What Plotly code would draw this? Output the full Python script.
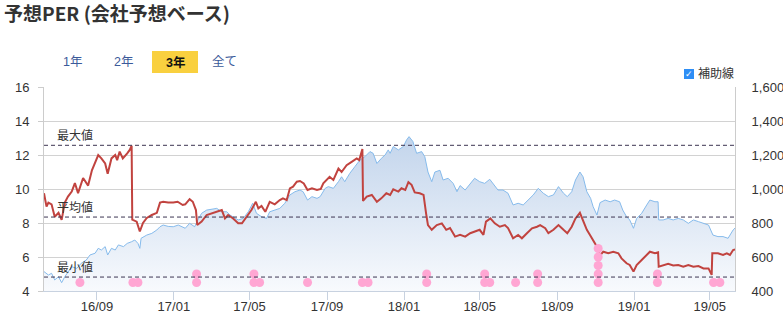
import plotly.graph_objects as go

# ---------------- data ----------------
per_dates = [
    "2016-06-09", "2016-06-13", "2016-06-16", "2016-06-21", "2016-06-26",
    "2016-07-02", "2016-07-07", "2016-07-12", "2016-07-17", "2016-07-23", "2016-07-28",
    "2016-08-02", "2016-08-10", "2016-08-18", "2016-08-24", "2016-08-29",
    "2016-09-03", "2016-09-08", "2016-09-14", "2016-09-18", "2016-09-24", "2016-09-30",
    "2016-10-03", "2016-10-07", "2016-10-12", "2016-10-19", "2016-10-23", "2016-10-26", "2016-10-27",
    "2016-11-03", "2016-11-08", "2016-11-13", "2016-11-19", "2016-11-27",
    "2016-12-05", "2016-12-10", "2016-12-15", "2016-12-23", "2016-12-31",
    "2017-01-07", "2017-01-15", "2017-01-19", "2017-01-26", "2017-01-31",
    "2017-02-05", "2017-02-07", "2017-02-14", "2017-02-22",
    "2017-03-02", "2017-03-10", "2017-03-18", "2017-03-23", "2017-03-28",
    "2017-04-05", "2017-04-13", "2017-04-19", "2017-04-26",
    "2017-05-04", "2017-05-11", "2017-05-15", "2017-05-20", "2017-05-26",
    "2017-06-02", "2017-06-10", "2017-06-18", "2017-06-23", "2017-06-29",
    "2017-07-04", "2017-07-09", "2017-07-15", "2017-07-20", "2017-07-26",
    "2017-08-01", "2017-08-08", "2017-08-16", "2017-08-22", "2017-08-26", "2017-08-31",
    "2017-09-05", "2017-09-11", "2017-09-19", "2017-09-24",
    "2017-10-02", "2017-10-10", "2017-10-18", "2017-10-22", "2017-10-27", "2017-10-28",
    "2017-11-03", "2017-11-11", "2017-11-19", "2017-11-26",
    "2017-12-04", "2017-12-10", "2017-12-15", "2017-12-23", "2017-12-28",
    "2018-01-03", "2018-01-08", "2018-01-13", "2018-01-18", "2018-01-26",
    "2018-02-01", "2018-02-05", "2018-02-08", "2018-02-14", "2018-02-22",
    "2018-03-02", "2018-03-09", "2018-03-15", "2018-03-23", "2018-03-31",
    "2018-04-08", "2018-04-16", "2018-04-23",
    "2018-05-01", "2018-05-07", "2018-05-11", "2018-05-18", "2018-05-25",
    "2018-06-02", "2018-06-10", "2018-06-15", "2018-06-23",
    "2018-07-01", "2018-07-07", "2018-07-15", "2018-07-23", "2018-07-31",
    "2018-08-05", "2018-08-13", "2018-08-18", "2018-08-26",
    "2018-09-03", "2018-09-11", "2018-09-17", "2018-09-24", "2018-09-30",
    "2018-10-07", "2018-10-12", "2018-10-18", "2018-10-23", "2018-10-28",
    "2018-11-03", "2018-11-08", "2018-11-13", "2018-11-21", "2018-11-29",
    "2018-12-07", "2018-12-12", "2018-12-20", "2018-12-25", "2018-12-31",
    "2019-01-05", "2019-01-13", "2019-01-21", "2019-01-26",
    "2019-02-03", "2019-02-08", "2019-02-09", "2019-02-16", "2019-02-24",
    "2019-03-04", "2019-03-12", "2019-03-20", "2019-03-28",
    "2019-04-05", "2019-04-13", "2019-04-21", "2019-04-29",
    "2019-05-04", "2019-05-05", "2019-05-14", "2019-05-22", "2019-05-28",
    "2019-06-02", "2019-06-07", "2019-06-10",
]
per_values = [
    9.75, 8.96, 9.2, 9.1, 8.37,
    8.6, 8.18, 9.2, 9.55, 9.85, 10.35,
    9.76, 10.65, 10.2, 11.1, 11.5,
    12.0, 11.8, 11.5, 10.9, 11.8, 12.0,
    11.7, 12.2, 11.8, 12.1, 12.3, 12.55, 8.2,
    8.08, 7.5, 8.0, 8.3, 8.47,
    8.6, 9.2, 9.25, 9.2, 9.2,
    9.25, 9.06, 9.1, 9.4, 9.25,
    8.76, 7.88, 8.08, 8.47,
    8.57, 8.66, 8.76, 8.27, 8.47,
    8.27, 7.98, 7.98, 8.37,
    8.76, 9.25, 8.86, 9.0, 8.66,
    9.25, 9.1, 9.35, 9.45, 9.35,
    10.04, 10.14, 10.43, 10.47, 10.33,
    9.94, 10.04, 9.94, 10.0, 10.33, 10.53,
    10.72, 10.53, 11.2, 11.0,
    11.4, 11.6, 11.8, 11.7, 12.35, 9.3,
    9.55, 9.65, 9.25, 9.45,
    9.75, 9.65, 9.98, 9.85, 10.04,
    9.94, 10.4, 10.25, 9.8, 9.75,
    9.65, 8.57, 7.88, 7.6, 7.88,
    7.98, 7.6, 7.7, 7.2, 7.3,
    7.2, 7.4, 7.5,
    7.6, 7.3, 8.08, 8.27, 7.98,
    7.78, 7.88, 7.7, 7.1,
    7.3, 7.1, 7.4, 7.69, 7.78,
    7.88, 7.69, 7.4, 7.6,
    7.88, 7.6, 7.4, 7.78, 8.27,
    8.6, 8.18, 7.6, 7.3, 7.0,
    6.6, 6.1, 6.31, 6.22, 6.31,
    6.22, 5.92, 5.63, 5.53, 5.14,
    5.53, 5.82, 6.12, 6.31,
    6.22, 6.27, 5.43, 5.53, 5.6,
    5.5, 5.53, 5.43, 5.53,
    5.43, 5.47, 5.33, 5.33,
    4.95, 6.22, 6.22, 6.12, 6.22,
    6.12, 6.41, 6.45,
]

price_dates = [
    "2016-06-09", "2016-06-16", "2016-06-21", "2016-06-26",
    "2016-07-02", "2016-07-07", "2016-07-12", "2016-07-17", "2016-07-23", "2016-07-31",
    "2016-08-07", "2016-08-15", "2016-08-21", "2016-08-29",
    "2016-09-03", "2016-09-08", "2016-09-14", "2016-09-18", "2016-09-24", "2016-09-30",
    "2016-10-05", "2016-10-13", "2016-10-19", "2016-10-26", "2016-10-31",
    "2016-11-05", "2016-11-08", "2016-11-10", "2016-11-19", "2016-11-27",
    "2016-12-05", "2016-12-10", "2016-12-15", "2016-12-23", "2016-12-31",
    "2017-01-08", "2017-01-15", "2017-01-19", "2017-01-26",
    "2017-02-03", "2017-02-08", "2017-02-14", "2017-02-22",
    "2017-03-02", "2017-03-10", "2017-03-18", "2017-03-26", "2017-03-31",
    "2017-04-05", "2017-04-13", "2017-04-21", "2017-04-29",
    "2017-05-06", "2017-05-12", "2017-05-20", "2017-05-28",
    "2017-06-02", "2017-06-10", "2017-06-18", "2017-06-26",
    "2017-07-04", "2017-07-12", "2017-07-20", "2017-07-25",
    "2017-08-01", "2017-08-08", "2017-08-16", "2017-08-21", "2017-08-29",
    "2017-09-03", "2017-09-11", "2017-09-19", "2017-09-24", "2017-09-29",
    "2017-10-07", "2017-10-15", "2017-10-23", "2017-10-31",
    "2017-11-08", "2017-11-13", "2017-11-19", "2017-11-26",
    "2017-12-02", "2017-12-07", "2017-12-10", "2017-12-15", "2017-12-23", "2017-12-31",
    "2018-01-05", "2018-01-09", "2018-01-15", "2018-01-21", "2018-01-29",
    "2018-02-03", "2018-02-08", "2018-02-14", "2018-02-19", "2018-02-27",
    "2018-03-04", "2018-03-12", "2018-03-20", "2018-03-26", "2018-03-31",
    "2018-04-08", "2018-04-16", "2018-04-23",
    "2018-05-01", "2018-05-09", "2018-05-17", "2018-05-22", "2018-05-30",
    "2018-06-07", "2018-06-15", "2018-06-23",
    "2018-07-01", "2018-07-09", "2018-07-17", "2018-07-25",
    "2018-08-02", "2018-08-10", "2018-08-18", "2018-08-26",
    "2018-09-03", "2018-09-11", "2018-09-17", "2018-09-24", "2018-09-30",
    "2018-10-07", "2018-10-12", "2018-10-18", "2018-10-24", "2018-10-28",
    "2018-11-03", "2018-11-08", "2018-11-16", "2018-11-24",
    "2018-12-01", "2018-12-09", "2018-12-14", "2018-12-20", "2018-12-25", "2018-12-31",
    "2019-01-05", "2019-01-13", "2019-01-21", "2019-01-26",
    "2019-02-03", "2019-02-08", "2019-02-09", "2019-02-16", "2019-02-24",
    "2019-03-04", "2019-03-12", "2019-03-20", "2019-03-28",
    "2019-04-05", "2019-04-13", "2019-04-21", "2019-04-29",
    "2019-05-06", "2019-05-14", "2019-05-22", "2019-05-30",
    "2019-06-07", "2019-06-10",
]
price_values = [
    514, 494, 504, 465,
    484, 449, 484, 514, 543, 533,
    563, 582, 612, 622,
    651, 641, 661, 612, 651, 641,
    671, 661, 680, 690, 700,
    680, 651, 710, 729, 739,
    759, 778, 788, 780, 778,
    788, 778, 769, 798,
    778, 818, 857, 876,
    880, 886, 866, 866, 847,
    837, 818, 827, 866,
    916, 857, 837, 827,
    866, 876, 886, 916,
    965, 984, 994, 984,
    935, 955, 945, 955, 1004,
    1014, 1004, 1043, 1072, 1043,
    1092, 1131, 1170, 1190,
    1220, 1210, 1150, 1180,
    1200, 1230, 1210, 1250, 1230, 1250,
    1288, 1308, 1280, 1210, 1220,
    1190, 1100, 1043, 1100, 1110,
    1053, 1063, 1033, 984, 1020,
    994, 1033, 1063,
    1043, 1033, 1057, 1033, 994,
    994, 975, 906,
    916, 906, 935, 965,
    1004, 975, 955, 965,
    1014, 975, 955, 984, 1053,
    1100, 1072, 984, 945, 896,
    847, 920, 935, 925,
    935, 925, 876, 837, 818, 769,
    827, 857, 906, 935,
    925, 925, 818, 818, 827,
    818, 827, 818, 798,
    818, 808, 798, 788,
    729, 720, 720, 710,
    759, 770,
]

# event markers (pink dots) and how many stack on each date
event_dates = ["2016-08-05", "2016-10-28", "2016-11-05", "2017-02-06", "2017-05-08",
               "2017-05-17", "2017-08-01", "2017-10-27", "2017-11-05", "2018-02-06",
               "2018-05-09", "2018-05-17", "2018-06-27", "2018-08-01", "2018-11-05",
               "2019-02-07", "2019-05-07", "2019-05-17"]
event_counts = [1, 1, 1, 2, 2, 1, 1, 1, 1, 2, 2, 1, 1, 2, 5, 2, 1, 1]

ref_lines = [("最大値", 12.57), ("平均値", 8.35), ("最小値", 4.82)]
range_buttons = ["1年", "2年", "3年", "全て"]
selected_button = "3年"

# ---------------- figure ----------------
W, H = 783, 316
ML, MR, MT, MB = 44, 48, 87, 25
PW, PH = W - ML - MR, H - MT - MB


def px_x(p):
    return (p - ML) / PW


def px_y(p):
    return (H - MB - p) / PH


FONT = "Arial, 'Noto Sans CJK JP', sans-serif"

fig = go.Figure()

fig.add_trace(go.Scatter(
    x=price_dates, y=price_values, yaxis="y", mode="lines",
    line=dict(color="#86bbec", width=1), fill="tozeroy",
    fillgradient=dict(type="vertical", start=400, stop=1300,
                      colorscale=[[0, "#f8fafd"], [1, "#c3d5ec"]]),
    hoverinfo="skip", showlegend=False))

fig.add_trace(go.Scatter(
    x=per_dates, y=per_values, yaxis="y2", mode="lines",
    line=dict(color="#c1433f", width=2), showlegend=False))

ex, ey = [], []
for d, c in zip(event_dates, event_counts):
    for k in range(c):
        ex.append(d)
        ey.append(4.5 + 0.5 * k)
fig.add_trace(go.Scatter(
    x=ex, y=ey, yaxis="y2", mode="markers",
    marker=dict(size=9, color="#ffa6d3", line=dict(width=0)),
    showlegend=False, cliponaxis=False))

shapes = []
annotations = []
for name, v in ref_lines:
    shapes.append(dict(type="line", xref="paper", x0=0, x1=1, yref="y2", y0=v, y1=v,
                       line=dict(color="#3d3552", width=1, dash="4px,3px"), layer="above"))
    annotations.append(dict(text=name, xref="paper", x=px_x(55), xanchor="left",
                            yref="y2", y=v, yanchor="bottom", showarrow=False,
                            font=dict(size=12, color="#333", family=FONT)))

# range buttons
btn_centers = [72.5, 123, 175, 225]
for lab, cx in zip(range_buttons, btn_centers):
    sel = lab == selected_button
    if sel:
        shapes.append(dict(type="rect", xref="paper", yref="paper",
                           x0=px_x(152), x1=px_x(198), y0=px_y(73), y1=px_y(51),
                           fillcolor="#f9d03f", line=dict(width=0), layer="above"))
    annotations.append(dict(text=f"<b>{lab}</b>" if sel else lab, xref="paper", yref="paper",
                            x=px_x(cx), y=px_y(62), xanchor="center", yanchor="middle",
                            showarrow=False,
                            font=dict(size=12.5, color="#111" if sel else "#3b5a9a", family=FONT)))

# checkbox 補助線
shapes.append(dict(type="rect", xref="paper", yref="paper",
                   x0=px_x(684), x1=px_x(694), y0=px_y(79), y1=px_y(69),
                   fillcolor="#2e8ef5", line=dict(width=0), layer="above"))
annotations.append(dict(text="✓", xref="paper", yref="paper", x=px_x(689), y=px_y(74),
                        xanchor="center", yanchor="middle", showarrow=False,
                        font=dict(size=9, color="white", family="DejaVu Sans")))
annotations.append(dict(text="補助線", xref="paper", yref="paper", x=px_x(696), y=px_y(73),
                        xanchor="left", yanchor="middle", showarrow=False,
                        font=dict(size=12, color="#333", family=FONT)))

fig.update_layout(
    width=W, height=H,
    margin=dict(l=ML, r=MR, t=MT, b=MB, pad=0, autoexpand=False),
    paper_bgcolor="white", plot_bgcolor="white",
    title=dict(text="<b>予想PER (会社予想ベース)</b>", x=4 / W, xanchor="left",
               xref="container", yref="container", y=1 - 14 / H, yanchor="middle",
               font=dict(size=19, color="#333", family="'Noto Sans CJK JP', sans-serif")),
    font=dict(family=FONT, size=13, color="#333"),
    xaxis=dict(type="date", range=["2016-06-09", "2019-06-10"], dtick="M4",
               tick0="2016-09-01", tickformat="%y/%m", ticks="outside", ticklen=8,
               tickcolor="#c8d2e0", showline=True, linecolor="#c8d2e0", showgrid=False,
               zeroline=False, ticklabelstandoff=-5, tickfont=dict(size=13, color="#333")),
    yaxis=dict(side="right", range=[400, 1600], dtick=200, tickformat=",",
               showgrid=True, gridcolor="#d2d2d2", gridwidth=1, showline=True,
               linecolor="#cccccc", ticks="", zeroline=False, ticklabelstandoff=13,
               tickfont=dict(size=13, color="#333")),
    yaxis2=dict(overlaying="y", side="left", range=[4, 16], dtick=2, showgrid=False,
                showline=True, linecolor="#cccccc", ticks="outside", ticklen=5,
                tickcolor="#cccccc", zeroline=False, ticklabelstandoff=6,
                tickfont=dict(size=13, color="#333")),
    shapes=shapes, annotations=annotations, showlegend=False,
)

fig.write_html("out.html")
